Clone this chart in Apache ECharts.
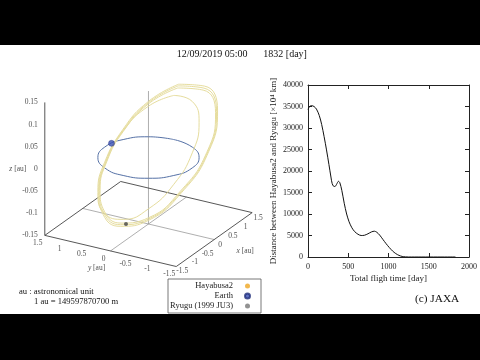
<!DOCTYPE html>
<html><head><meta charset="utf-8">
<script src="https://cdn.jsdelivr.net/npm/echarts@6/dist/echarts.min.js"></script>
<style>html,body{margin:0;padding:0;background:#000}#c{width:480px;height:360px}</style>
</head><body><div id="c"></div>
<script>
// ---------- Right panel data: distance Hayabusa2–Ryugu ----------
const flightDays = [0,20,45,75,105,140,170,200,230,260,285,300,318,335,355,378,395,420,450,480,510,545,580,620,660,700,745,790,825,855,890,930,970,1010,1050,1090,1130,1170,1210,1250,1832];
const distance   = [34300,35000,35200,35000,34400,32900,30800,28000,24900,21500,18600,17100,16450,16400,16900,17600,17300,15500,12500,10000,8200,6800,5900,5300,5000,5050,5400,5850,6000,5750,5100,4100,3100,2200,1400,800,380,130,30,0,0];
const dayTicks = [0,500,1000,1500,2000];
const distTicks = [0,5000,10000,15000,20000,25000,30000,35000,40000];

// ---------- Left panel data (heliocentric ecliptic, au) ----------
const xyRange = [-1.5, 1.5];
const zRange = [-0.15, 0.15];
const xyTicks = [-1.5,-1,-0.5,0,0.5,1,1.5];
const zTicks = [-0.15,-0.1,-0.05,0,0.05,0.1,0.15];
const earthOrbit = [[1,0,0],[0.866,0.5,0],[0.5,0.866,0],[0,1,0],[-0.5,0.866,0],[-0.866,0.5,0],[-1,0,0],[-0.866,-0.5,0],[-0.5,-0.866,0],[0,-1,0],[0.5,-0.866,0],[0.866,-0.5,0]];
const hayabusaLoop1 = [[1.192,0,0.117],[0.955,0.551,0.075],[0.512,0.885,0.021],[0,0.978,-0.033],[-0.492,0.854,-0.077],[-0.893,0.516,-0.105],[-1.117,0,-0.11],[-1.068,-0.617,-0.084],[-0.649,-1.125,-0.027],[0,-1.372,0.045],[0.683,-1.182,0.107],[1.111,-0.642,0.131]];
const hayabusaLoop2 = [[1.174,0,0.114],[0.941,0.543,0.073],[0.504,0.872,0.02],[0,0.964,-0.032],[-0.485,0.841,-0.075],[-0.88,0.508,-0.102],[-1.1,0,-0.107],[-1.052,-0.608,-0.082],[-0.639,-1.108,-0.026],[0,-1.352,0.044],[0.673,-1.165,0.104],[1.095,-0.633,0.127]];
const hayabusaLoop3 = [[1.156,0,0.11],[0.927,0.535,0.071],[0.496,0.859,0.019],[0,0.95,-0.031],[-0.478,0.828,-0.073],[-0.867,0.5,-0.099],[-1.084,0,-0.104],[-1.036,-0.599,-0.08],[-0.629,-1.091,-0.025],[0,-1.332,0.043],[0.663,-1.148,0.101],[1.079,-0.624,0.123]];
const hayabusaLoop4 = [[1,0,0.0995],[0.866,0.5,0.069],[0.5,0.866,0.02],[0,1,-0.034],[-0.5,0.866,-0.079],[-0.866,0.5,-0.103],[-1,0,-0.099],[-0.866,-0.5,-0.069],[-0.5,-0.866,-0.02],[0,-1,0.034],[0.5,-0.866,0.079],[0.866,-0.5,0.103]];
const earthNow = [0.225,0.974,0];
const ryuguNow = [-1.147,-0.149,-0.1];

// ---------- projection (gnuplot-like view) ----------
const VIEW = {rotX: 65.8, rotZ: 30, zScale: 8.76};
const rad = d => d*Math.PI/180;
function proj(p){
  const a = rad(VIEW.rotZ), b = rad(VIEW.rotX);
  const [x,y,z] = p;
  return [x*Math.sin(a) - y*Math.cos(a), (x*Math.cos(a)+y*Math.sin(a))*Math.cos(b) + (z - zRange[0])*VIEW.zScale];
}
const closed = arr => arr.concat([arr[0]]).map(proj);

const SERIF = "'Liberation Serif','Times New Roman',serif";
const zb = zRange[0], lo = xyRange[0], hi = xyRange[1];

function line3(name, pts, color, width, smooth, z){
  return {type:'line', name, xAxisIndex:0, yAxisIndex:0, data: pts, showSymbol:false, smooth: smooth||false,
    lineStyle:{color, width}, silent:true, z: z||2, animation:false};
}
function labels3(items, z){
  return {type:'scatter', xAxisIndex:0, yAxisIndex:0, symbolSize:0, silent:true, animation:false, z: z||5,
    data: items.map(it => ({value: proj(it.p), label:{show:true, formatter: it.t, position:'inside', offset: it.off,
      align: it.align||'center', verticalAlign:'middle', fontSize:7.5, fontFamily:SERIF, color:'#222',
      rich:{i:{fontStyle:'italic', fontSize:7.5, fontFamily:SERIF, color:'#222'}}}}))};
}

const series = [
  line3('zero-x', [[0,lo,zb],[0,hi,zb]].map(proj), '#9a9a9a', 0.8),
  line3('zero-y', [[lo,0,zb],[hi,0,zb]].map(proj), '#9a9a9a', 0.8),
  line3('zero-z', [[0,0,zRange[0]],[0,0,zRange[1]]].map(proj), '#9a9a9a', 0.8),
  line3('EarthOrbit', closed(earthOrbit), '#5571a6', 1, 0.5, 3),
  line3('Hayabusa2', closed(hayabusaLoop4), '#e6dd9e', 1, 0.5, 4),
  line3('Hayabusa2', closed(hayabusaLoop1), '#e6dd9e', 1, 0.5, 4),
  line3('Hayabusa2', closed(hayabusaLoop2), '#e6dd9e', 1, 0.5, 4),
  line3('Hayabusa2', closed(hayabusaLoop3), '#e6dd9e', 1, 0.5, 4),
  line3('box', [[lo,hi,zb],[hi,hi,zb],[hi,lo,zb],[lo,lo,zb],[lo,hi,zb]].map(proj), '#444', 0.9),
  line3('zaxis', [[lo,hi,zRange[0]],[lo,hi,zRange[1]]].map(proj), '#444', 0.9),
  labels3(zTicks.map(t => ({p:[lo,hi,t], t:String(t), off:[-7,0], align:'right'}))),
  labels3(xyTicks.map(t => ({p:[lo,t,zb], t:String(t), off:[-7,8]}))),
  labels3(xyTicks.map(t => ({p:[t,lo,zb], t:String(t), off:[6,5]}))),
  labels3([{p:[lo,hi,0], t:'{i|z} [au]', off:[-27,0]}, {p:[lo,0,zb], t:'{i|y} [au]', off:[-14,17]}, {p:[0,lo,zb], t:'{i|x} [au]', off:[31,11]}]),
  {type:'scatter', name:'Earth', xAxisIndex:0, yAxisIndex:0, data:[proj(earthNow)], symbol:'circle', symbolSize:6,
    itemStyle:{color:'#3a50b4', borderColor:'#22307a', borderWidth:0.5}, z:6, silent:true, animation:false},
  {type:'scatter', name:'Ryugu (1999 JU3)', xAxisIndex:0, yAxisIndex:0, data:[proj(ryuguNow)], symbol:'circle', symbolSize:4,
    itemStyle:{color:'#444'}, z:6, silent:true, animation:false},
  {type:'line', name:'distance', xAxisIndex:1, yAxisIndex:1, data: flightDays.map((d,i)=>[d, distance[i]]),
    showSymbol:false, smooth:0.3, lineStyle:{color:'#111', width:1}, silent:true, animation:false, z:3}
];

const axisTxt = {fontSize:8, fontFamily:SERIF, color:'#222', formatter: v => String(v)};
const mirrorAxis = {axisLine:{onZero:false, lineStyle:{color:'#222', width:1}}, axisTick:{inside:true, length:4, lineStyle:{color:'#222'}},
  axisLabel:{show:false}, splitLine:{show:false}};
const option = {
  backgroundColor:'#ffffff',
  animation:false,
  graphic:[
    {type:'rect', shape:{x:0,y:0,width:480,height:45}, style:{fill:'#000'}, z:-10, silent:true},
    {type:'rect', shape:{x:0,y:314,width:480,height:46}, style:{fill:'#000'}, z:-10, silent:true},
    {type:'text', x:176.7, y:54, style:{text:'12/09/2019 05:00', fontSize:10, fontFamily:SERIF, fill:'#111', verticalAlign:'middle'}},
    {type:'text', x:263.3, y:54, style:{text:'1832 [day]', fontSize:10, fontFamily:SERIF, fill:'#111', verticalAlign:'middle'}},
    {type:'text', x:19, y:291.5, style:{text:'au : astronomical unit', fontSize:8.6, fontFamily:SERIF, fill:'#111', verticalAlign:'middle'}},
    {type:'text', x:34, y:301.5, style:{text:'1 au = 149597870700 m', fontSize:8.6, fontFamily:SERIF, fill:'#111', verticalAlign:'middle'}},
    {type:'text', x:415, y:299, style:{text:'(c) JAXA', fontSize:11.3, fontFamily:SERIF, fill:'#111', verticalAlign:'middle'}}
  ],
  legend:{
    left:168, top:279, orient:'vertical', align:'right', itemWidth:5, itemHeight:5, itemGap:0,
    padding:[2,10,2,1], borderColor:'#555', borderWidth:0.8, selectedMode:false,
    textStyle:{fontSize:8.5, fontFamily:SERIF, color:'#222', width:64, align:'right', lineHeight:10, padding:[0,7,0,0]},
    data:[
      {name:'Hayabusa2', icon:'circle', itemStyle:{color:'#f2b84e'}},
      {name:'Earth', icon:'circle', itemStyle:{color:'#3a50b4'}},
      {name:'Ryugu (1999 JU3)', icon:'circle', itemStyle:{color:'#777'}}
    ]
  },
  grid:[
    {left:6.8, top:21.6, width:253, height:253, show:false},
    {left:308, top:85, width:161, height:172, show:false}
  ],
  xAxis:[
    {gridIndex:0, type:'value', min:-2.8, max:2.2, show:false},
    {gridIndex:1, type:'value', min:dayTicks[0], max:dayTicks[dayTicks.length-1], interval:500,
      name:'Total fligh time [day]', nameLocation:'middle', nameGap:17, nameTextStyle:{fontSize:9, fontFamily:SERIF, color:'#222'},
      axisLine:{onZero:false, lineStyle:{color:'#222', width:1}}, axisTick:{inside:true, length:4, lineStyle:{color:'#222'}},
      axisLabel:{...axisTxt, margin:6}, splitLine:{show:false}},
    {gridIndex:1, type:'value', position:'top', min:dayTicks[0], max:dayTicks[dayTicks.length-1], interval:500, ...mirrorAxis}
  ],
  yAxis:[
    {gridIndex:0, type:'value', min:-1, max:4, show:false},
    {gridIndex:1, type:'value', min:distTicks[0], max:distTicks[distTicks.length-1], interval:5000,
      name:'Distance between Hayabusa2 and Ryugu [×10⁴ km]', nameLocation:'middle', nameGap:30, nameRotate:90,
      nameTextStyle:{fontSize:9, fontFamily:SERIF, color:'#222'},
      axisLine:{onZero:false, lineStyle:{color:'#222', width:1}}, axisTick:{inside:true, length:4, lineStyle:{color:'#222'}},
      axisLabel:{...axisTxt, margin:5}, splitLine:{show:false}},
    {gridIndex:1, type:'value', position:'right', min:distTicks[0], max:distTicks[distTicks.length-1], interval:5000, ...mirrorAxis}
  ],
  series
};
const chart = echarts.init(document.getElementById('c'), null, {renderer:'canvas'});
chart.setOption(option);
</script></body></html>
